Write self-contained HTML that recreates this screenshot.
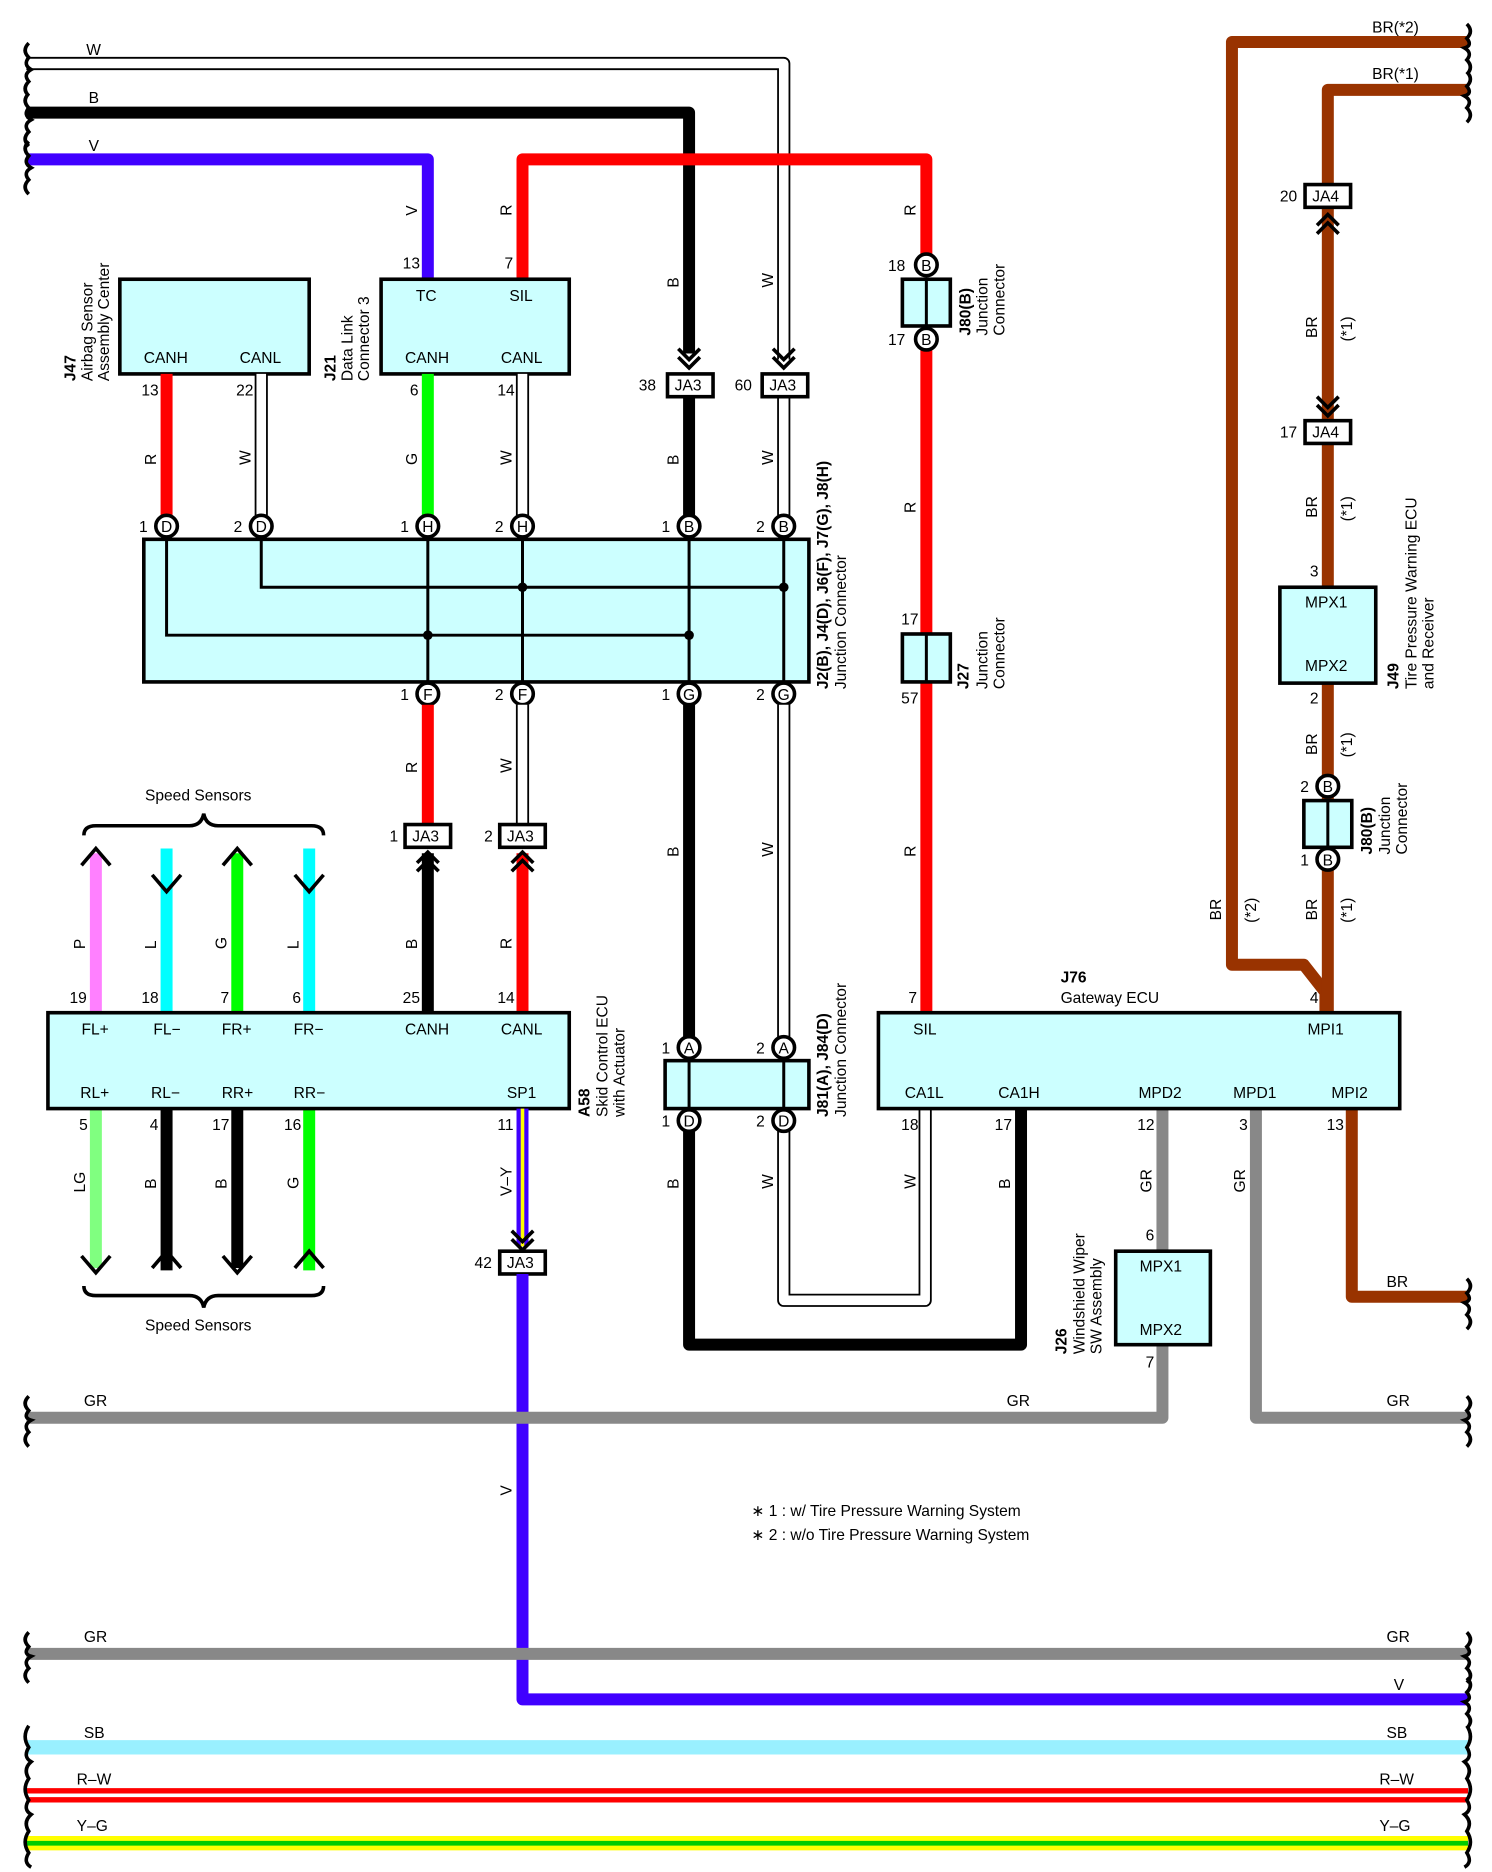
<!DOCTYPE html>
<html><head><meta charset="utf-8"><style>
html,body{margin:0;padding:0;background:#fff;}
svg{display:block;}
text{font-family:"Liberation Sans",sans-serif;font-size:13px;fill:#000;}
.b{font-weight:bold;}
.box{fill:#ccffff;stroke:#000;stroke-width:3;}
.pin{fill:#fff;stroke:#000;stroke-width:3;}
.w{fill:none;stroke-linejoin:round;}
.ch{fill:none;stroke:#000;stroke-width:3;}
.br{fill:none;stroke:#000;stroke-width:3;}
</style></head><body>
<svg width="1492" height="1872" viewBox="0 0 1245 1562" preserveAspectRatio="none" xmlns="http://www.w3.org/2000/svg">
<!-- top wires -->
<path class="w" d="M22,53 H654 V300" stroke="#000" stroke-width="11"/>
<path class="w" d="M22,53 H654 V300" stroke="#fff" stroke-width="8"/>
<path class="w" d="M22,94 H575 V295" stroke="#000" stroke-width="10"/>
<path class="w" d="M22,133 H357 V233" stroke="#4000ff" stroke-width="10"/>
<path class="w" d="M436,233 V133 H773 V212" stroke="#ff0000" stroke-width="10"/>
<path class="w" d="M1225,35 H1028 V805 H1088 L1106,828 V845" stroke="#993300" stroke-width="10"/>
<path class="w" d="M1225,75 H1108 V845" stroke="#993300" stroke-width="10"/>
<path class="w" d="M1128,925 V1082 H1225" stroke="#993300" stroke-width="10"/>
<!-- braces -->
<path class="br" d="M24,36 q-6,6 0,12 q-5,6 2,10 q-7,4 -2,10 q-6,6 0,12"/>
<path class="br" d="M24,78 q-6,6 0,12 q-5,6 2,10 q-7,4 -2,10 q-6,6 0,12"/>
<path class="br" d="M24,118 q-6,6 0,12 q-5,6 2,10 q-7,4 -2,10 q-6,6 0,12"/>
<path class="br" d="M1224,20 q6,6 0,12 q5,6 -2,8 q7,4 2,10 q6,6 0,12"/>
<path class="br" d="M1224,60 q6,6 0,12 q5,6 -2,8 q7,4 2,10 q6,6 0,12"/>
<path class="br" d="M1224,1067 q6,6 0,12 q5,6 -2,8 q7,4 2,10 q6,6 0,12"/>
<text x="72" y="46">W</text><text x="74" y="86">B</text><text x="74" y="126">V</text>
<text x="1145" y="27">BR(*2)</text><text x="1145" y="66">BR(*1)</text><text x="1157" y="1074">BR</text>
<!-- J47 J21 -->
<rect class="box" x="100" y="233" width="158" height="79"/>
<text x="120" y="303">CANH</text><text x="200" y="303">CANL</text>
<rect class="box" x="318" y="233" width="157" height="79"/>
<text x="347" y="251">TC</text><text x="425" y="251">SIL</text>
<text x="338" y="303">CANH</text><text x="418" y="303">CANL</text>
<text x="336" y="224">13</text><text x="421" y="224">7</text>
<text transform="translate(63,318) rotate(-90)" class="b">J47</text>
<text transform="translate(77,318) rotate(-90)">Airbag Sensor</text>
<text transform="translate(91,318) rotate(-90)">Assembly Center</text>
<text transform="translate(280,318) rotate(-90)" class="b">J21</text>
<text transform="translate(294,318) rotate(-90)">Data Link</text>
<text transform="translate(308,318) rotate(-90)">Connector 3</text>
<!-- wires J47/J21 to junction -->
<line x1="139" y1="312" x2="139" y2="430" stroke="#f00" stroke-width="10"/>
<line x1="218" y1="312" x2="218" y2="430" stroke="#000" stroke-width="11"/>
<line x1="218" y1="312" x2="218" y2="430" stroke="#fff" stroke-width="8"/>
<line x1="357" y1="312" x2="357" y2="430" stroke="#00ff00" stroke-width="10"/>
<line x1="436" y1="312" x2="436" y2="430" stroke="#000" stroke-width="11"/>
<line x1="436" y1="312" x2="436" y2="430" stroke="#fff" stroke-width="8"/>
<line x1="575" y1="331" x2="575" y2="430" stroke="#000" stroke-width="10"/>
<line x1="654" y1="331" x2="654" y2="430" stroke="#000" stroke-width="11"/>
<line x1="654" y1="331" x2="654" y2="430" stroke="#fff" stroke-width="8"/>
<text x="118" y="330">13</text><text x="197" y="330">22</text><text x="342" y="330">6</text><text x="415" y="330">14</text>
<!-- JA3 top -->
<path class="ch" d="M566,291 l9,9 l9,-9 M566,298 l9,9 l9,-9"/>
<path class="ch" d="M645,291 l9,9 l9,-9 M645,298 l9,9 l9,-9"/>
<rect x="557" y="312" width="38" height="19" fill="#fff" stroke="#000" stroke-width="3"/>
<rect x="636" y="312" width="38" height="19" fill="#fff" stroke="#000" stroke-width="3"/>
<text x="563" y="326">JA3</text><text x="642" y="326">JA3</text>
<text x="533" y="326">38</text><text x="613" y="326">60</text>
<!-- Junction connector big -->
<rect class="box" x="120" y="450" width="555" height="119"/>
<g stroke="#000" stroke-width="2.5" fill="none">
<path d="M139,450 V530 H575"/><path d="M218,450 V490 H654"/>
<path d="M357,450 V569 M436,450 V569 M575,450 V569 M654,450 V569"/>
</g>
<circle cx="436" cy="490" r="4"/><circle cx="654" cy="490" r="4"/><circle cx="357" cy="530" r="4"/><circle cx="575" cy="530" r="4"/>
<g>
<circle class="pin" cx="139" cy="439" r="9"/><circle class="pin" cx="218" cy="439" r="9"/><circle class="pin" cx="357" cy="439" r="9"/><circle class="pin" cx="436" cy="439" r="9"/><circle class="pin" cx="575" cy="439" r="9"/><circle class="pin" cx="654" cy="439" r="9"/>
<circle class="pin" cx="357" cy="579" r="9"/><circle class="pin" cx="436" cy="579" r="9"/><circle class="pin" cx="575" cy="579" r="9"/><circle class="pin" cx="654" cy="579" r="9"/>
</g>
<g font-size="12" text-anchor="middle">
<text x="139" y="444" text-anchor="middle">D</text><text x="218" y="444" text-anchor="middle">D</text><text x="357" y="444" text-anchor="middle">H</text><text x="436" y="444" text-anchor="middle">H</text><text x="575" y="444" text-anchor="middle">B</text><text x="654" y="444" text-anchor="middle">B</text>
<text x="357" y="584" text-anchor="middle">F</text><text x="436" y="584" text-anchor="middle">F</text><text x="575" y="584" text-anchor="middle">G</text><text x="654" y="584" text-anchor="middle">G</text>
</g>
<text x="116" y="444">1</text><text x="195" y="444">2</text><text x="334" y="444">1</text><text x="413" y="444">2</text><text x="552" y="444">1</text><text x="631" y="444">2</text>
<text x="334" y="584">1</text><text x="413" y="584">2</text><text x="552" y="584">1</text><text x="631" y="584">2</text>
<text transform="translate(691,575) rotate(-90)" class="b">J2(B), J4(D), J6(F), J7(G), J8(H)</text>
<text transform="translate(706,575) rotate(-90)">Junction Connector</text>
<!-- below F -->
<line x1="357" y1="588" x2="357" y2="688" stroke="#f00" stroke-width="10"/>
<line x1="436" y1="588" x2="436" y2="688" stroke="#000" stroke-width="11"/>
<line x1="436" y1="588" x2="436" y2="688" stroke="#fff" stroke-width="8"/>
<rect x="338" y="688" width="38" height="19" fill="#fff" stroke="#000" stroke-width="3"/>
<rect x="417" y="688" width="38" height="19" fill="#fff" stroke="#000" stroke-width="3"/>
<text x="344" y="702">JA3</text><text x="423" y="702">JA3</text>
<text x="325" y="702">1</text><text x="404" y="702">2</text>
<line x1="357" y1="712" x2="357" y2="845" stroke="#000" stroke-width="10"/>
<line x1="436" y1="712" x2="436" y2="845" stroke="#f00" stroke-width="10"/>
<path class="ch" d="M348,720 l9,-9 l9,9 M348,727 l9,-9 l9,9"/>
<path class="ch" d="M427,720 l9,-9 l9,9 M427,727 l9,-9 l9,9"/>
<text x="336" y="837">25</text><text x="415" y="837">14</text>
<!-- speed sensor wires -->
<line x1="80" y1="712" x2="80" y2="845" stroke="#ff80ff" stroke-width="10"/>
<line x1="139" y1="708" x2="139" y2="845" stroke="#00ffff" stroke-width="10"/>
<line x1="198" y1="712" x2="198" y2="845" stroke="#00ff00" stroke-width="10"/>
<line x1="258" y1="708" x2="258" y2="845" stroke="#00ffff" stroke-width="10"/>
<path class="ch" d="M68,722 l12,-14 l12,14 M186,722 l12,-14 l12,14 M127,730 l12,14 l12,-14 M246,730 l12,14 l12,-14"/>
<line x1="80" y1="925" x2="80" y2="1058" stroke="#80ff80" stroke-width="10"/>
<line x1="139" y1="925" x2="139" y2="1060" stroke="#000" stroke-width="10"/>
<line x1="198" y1="925" x2="198" y2="1058" stroke="#000" stroke-width="10"/>
<line x1="258" y1="925" x2="258" y2="1060" stroke="#00ff00" stroke-width="10"/>
<path class="ch" d="M68,1048 l12,14 l12,-14 M186,1048 l12,14 l12,-14 M127,1058 l12,-14 l12,14 M246,1058 l12,-14 l12,14"/>
<path class="br" d="M70,697 q0,-8 10,-8 h78 q10,0 12,-10 q2,10 12,10 h78 q10,0 10,8"/>
<path class="br" d="M70,1073 q0,8 10,8 h78 q10,0 12,10 q2,-10 12,-10 h78 q10,0 10,-8"/>
<text x="121" y="668">Speed Sensors</text><text x="121" y="1110">Speed Sensors</text>
<text x="58" y="837">19</text><text x="118" y="837">18</text><text x="184" y="837">7</text><text x="244" y="837">6</text>
<text x="66" y="943">5</text><text x="125" y="943">4</text><text x="177" y="943">17</text><text x="237" y="943">16</text>
<!-- A58 -->
<rect class="box" x="40" y="845" width="435" height="80"/>
<text x="68" y="863">FL+</text><text x="128" y="863">FL−</text><text x="185" y="863">FR+</text><text x="245" y="863">FR−</text><text x="338" y="863">CANH</text><text x="418" y="863">CANL</text>
<text x="67" y="916">RL+</text><text x="126" y="916">RL−</text><text x="185" y="916">RR+</text><text x="245" y="916">RR−</text><text x="423" y="916">SP1</text>
<text transform="translate(492,932) rotate(-90)" class="b">A58</text>
<text transform="translate(507,932) rotate(-90)">Skid Control ECU</text>
<text transform="translate(521,932) rotate(-90)">with Actuator</text>
<!-- SP1 V-Y -->
<line x1="436" y1="925" x2="436" y2="1040" stroke="#4000ff" stroke-width="10"/>
<line x1="436" y1="925" x2="436" y2="1040" stroke="#ffff00" stroke-width="3"/>
<path class="ch" d="M427,1027 l9,9 l9,-9 M427,1034 l9,9 l9,-9"/>
<rect x="417" y="1044" width="38" height="19" fill="#fff" stroke="#000" stroke-width="3"/>
<text x="423" y="1058">JA3</text><text x="396" y="1058">42</text><text x="415" y="943">11</text>
<path class="w" d="M436,1063 V1418 H1225" stroke="#4000ff" stroke-width="10"/>
<!-- J81 J84 -->
<line x1="575" y1="588" x2="575" y2="866" stroke="#000" stroke-width="10"/>
<line x1="654" y1="588" x2="654" y2="866" stroke="#000" stroke-width="11"/>
<line x1="654" y1="588" x2="654" y2="866" stroke="#fff" stroke-width="8"/>
<path class="w" d="M575,935 V1122 H852 V925" stroke="#000" stroke-width="10"/>
<path class="w" d="M654,935 V1085 H772 V925" stroke="#000" stroke-width="11"/>
<path class="w" d="M654,935 V1085 H772 V925" stroke="#fff" stroke-width="8"/>
<rect class="box" x="555" y="885" width="120" height="40"/>
<line x1="575" y1="885" x2="575" y2="925" stroke="#000" stroke-width="2.5"/><line x1="654" y1="885" x2="654" y2="925" stroke="#000" stroke-width="2.5"/>
<circle class="pin" cx="575" cy="874" r="9"/><circle class="pin" cx="654" cy="874" r="9"/><circle class="pin" cx="575" cy="935" r="9"/><circle class="pin" cx="654" cy="935" r="9"/>
<text x="575" y="879" text-anchor="middle" font-size="12">A</text><text x="654" y="879" text-anchor="middle" font-size="12">A</text><text x="575" y="940" text-anchor="middle" font-size="12">D</text><text x="654" y="940" text-anchor="middle" font-size="12">D</text>
<text x="552" y="879">1</text><text x="631" y="879">2</text><text x="552" y="940">1</text><text x="631" y="940">2</text>
<text transform="translate(691,932) rotate(-90)" class="b">J81(A), J84(D)</text>
<text transform="translate(706,932) rotate(-90)">Junction Connector</text>
<!-- right red J80 J27 -->
<line x1="773" y1="290" x2="773" y2="845" stroke="#f00" stroke-width="10"/>
<rect class="box" x="753" y="233" width="40" height="39"/><line x1="773" y1="233" x2="773" y2="272" stroke="#000" stroke-width="2.5"/>
<circle class="pin" cx="773" cy="221" r="9"/><circle class="pin" cx="773" cy="283" r="9"/>
<text x="773" y="226" text-anchor="middle" font-size="12">B</text><text x="773" y="288" text-anchor="middle" font-size="12">B</text>
<text x="741" y="226">18</text><text x="741" y="288">17</text>
<text transform="translate(810,280) rotate(-90)" class="b">J80(B)</text>
<text transform="translate(824,280) rotate(-90)">Junction</text>
<text transform="translate(838,280) rotate(-90)">Connector</text>
<rect class="box" x="753" y="529" width="40" height="40"/><line x1="773" y1="529" x2="773" y2="569" stroke="#000" stroke-width="2.5"/>
<text x="752" y="521">17</text><text x="752" y="587">57</text>
<text transform="translate(808,575) rotate(-90)" class="b">J27</text>
<text transform="translate(824,575) rotate(-90)">Junction</text>
<text transform="translate(838,575) rotate(-90)">Connector</text>
<!-- gray wires -->
<path class="w" d="M22,1183 H970 V925" stroke="#888" stroke-width="10"/>
<path class="w" d="M1048,925 V1183 H1225" stroke="#888" stroke-width="10"/>
<rect class="box" x="931" y="1044" width="79" height="78"/>
<text x="951" y="1061">MPX1</text><text x="951" y="1114">MPX2</text>
<text x="956" y="1035">6</text><text x="956" y="1141">7</text>
<text transform="translate(890,1130) rotate(-90)" class="b">J26</text>
<text transform="translate(905,1130) rotate(-90)">Windshield Wiper</text>
<text transform="translate(919,1130) rotate(-90)">SW Assembly</text>
<!-- J76 -->
<rect class="box" x="733" y="845" width="435" height="80"/>
<text x="762" y="863">SIL</text><text x="1091" y="863">MPI1</text>
<text x="755" y="916">CA1L</text><text x="833" y="916">CA1H</text><text x="950" y="916">MPD2</text><text x="1029" y="916">MPD1</text><text x="1111" y="916">MPI2</text>
<text x="885" y="820" class="b">J76</text><text x="885" y="837">Gateway ECU</text>
<text x="758" y="837">7</text><text x="1093" y="837">4</text>
<text x="752" y="943">18</text><text x="830" y="943">17</text><text x="949" y="943">12</text><text x="1034" y="943">3</text><text x="1107" y="943">13</text>
<!-- J49 / JA4 -->
<rect x="1089" y="154" width="38" height="19" fill="#fff" stroke="#000" stroke-width="3"/>
<text x="1095" y="168">JA4</text><text x="1068" y="168">20</text>
<path class="ch" d="M1099,188 l9,-9 l9,9 M1099,195 l9,-9 l9,9"/>
<path class="ch" d="M1099,331 l9,9 l9,-9 M1099,338 l9,9 l9,-9"/>
<rect x="1089" y="351" width="38" height="19" fill="#fff" stroke="#000" stroke-width="3"/>
<text x="1095" y="365">JA4</text><text x="1068" y="365">17</text>
<rect class="box" x="1068" y="490" width="80" height="80"/>
<text x="1089" y="507">MPX1</text><text x="1089" y="560">MPX2</text>
<text x="1093" y="481">3</text><text x="1093" y="587">2</text>
<text transform="translate(1167,575) rotate(-90)" class="b">J49</text>
<text transform="translate(1182,575) rotate(-90)">Tire Pressure Warning ECU</text>
<text transform="translate(1196,575) rotate(-90)">and Receiver</text>
<rect class="box" x="1088" y="668" width="40" height="39"/><line x1="1108" y1="668" x2="1108" y2="707" stroke="#000" stroke-width="2.5"/>
<circle class="pin" cx="1108" cy="656" r="9"/><circle class="pin" cx="1108" cy="717" r="9"/>
<text x="1108" y="661" text-anchor="middle" font-size="12">B</text><text x="1108" y="722" text-anchor="middle" font-size="12">B</text>
<text x="1085" y="661">2</text><text x="1085" y="722">1</text>
<text transform="translate(1145,713) rotate(-90)" class="b">J80(B)</text>
<text transform="translate(1160,713) rotate(-90)">Junction</text>
<text transform="translate(1174,713) rotate(-90)">Connector</text>
<!-- wire labels rotated -->
<g font-size="12">
<text transform="translate(348,180) rotate(-90)">V</text><text transform="translate(427,180) rotate(-90)">R</text>
<text transform="translate(566,240) rotate(-90)">B</text><text transform="translate(645,240) rotate(-90)">W</text>
<text transform="translate(764,180) rotate(-90)">R</text>
<text transform="translate(130,388) rotate(-90)">R</text><text transform="translate(209,388) rotate(-90)">W</text>
<text transform="translate(348,388) rotate(-90)">G</text><text transform="translate(427,388) rotate(-90)">W</text>
<text transform="translate(566,388) rotate(-90)">B</text><text transform="translate(645,388) rotate(-90)">W</text>
<text transform="translate(764,428) rotate(-90)">R</text><text transform="translate(764,715) rotate(-90)">R</text>
<text transform="translate(348,645) rotate(-90)">R</text><text transform="translate(427,645) rotate(-90)">W</text>
<text transform="translate(566,715) rotate(-90)">B</text><text transform="translate(645,715) rotate(-90)">W</text>
<text transform="translate(71,792) rotate(-90)">P</text><text transform="translate(130,792) rotate(-90)">L</text>
<text transform="translate(189,792) rotate(-90)">G</text><text transform="translate(249,792) rotate(-90)">L</text>
<text transform="translate(348,792) rotate(-90)">B</text><text transform="translate(427,792) rotate(-90)">R</text>
<text transform="translate(71,995) rotate(-90)">LG</text><text transform="translate(130,992) rotate(-90)">B</text>
<text transform="translate(189,992) rotate(-90)">B</text><text transform="translate(249,992) rotate(-90)">G</text>
<text transform="translate(427,998) rotate(-90)">V–Y</text>
<text transform="translate(566,992) rotate(-90)">B</text><text transform="translate(645,992) rotate(-90)">W</text>
<text transform="translate(764,992) rotate(-90)">W</text><text transform="translate(843,992) rotate(-90)">B</text>
<text transform="translate(961,995) rotate(-90)">GR</text><text transform="translate(1039,995) rotate(-90)">GR</text>
<text transform="translate(427,1248) rotate(-90)">V</text>
<text transform="translate(1099,282) rotate(-90)">BR</text><text transform="translate(1128,285) rotate(-90)">(*1)</text>
<text transform="translate(1099,432) rotate(-90)">BR</text><text transform="translate(1128,435) rotate(-90)">(*1)</text>
<text transform="translate(1099,630) rotate(-90)">BR</text><text transform="translate(1128,632) rotate(-90)">(*1)</text>
<text transform="translate(1099,768) rotate(-90)">BR</text><text transform="translate(1128,770) rotate(-90)">(*1)</text>
<text transform="translate(1019,768) rotate(-90)">BR</text><text transform="translate(1048,770) rotate(-90)">(*2)</text>
</g>
<text x="70" y="1173">GR</text><text x="840" y="1173">GR</text><text x="1157" y="1173">GR</text>
<!-- notes -->
<text x="627" y="1265">∗ 1 : w/ Tire Pressure Warning System</text>
<text x="627" y="1285">∗ 2 : w/o Tire Pressure Warning System</text>
<!-- bottom bus -->
<line x1="22" y1="1380" x2="1225" y2="1380" stroke="#888" stroke-width="10"/>
<line x1="22" y1="1458" x2="1225" y2="1458" stroke="#99f0ff" stroke-width="12"/>
<line x1="22" y1="1498" x2="1225" y2="1498" stroke="#f00" stroke-width="12"/>
<line x1="22" y1="1498" x2="1225" y2="1498" stroke="#fff" stroke-width="3"/>
<line x1="22" y1="1538" x2="1225" y2="1538" stroke="#ffff00" stroke-width="12"/>
<line x1="22" y1="1538" x2="1225" y2="1538" stroke="#00cc00" stroke-width="4"/>
<text x="70" y="1370">GR</text><text x="1157" y="1370">GR</text><text x="1163" y="1410">V</text>
<text x="70" y="1450">SB</text><text x="1157" y="1450">SB</text>
<text x="64" y="1489">R–W</text><text x="1151" y="1489">R–W</text>
<text x="64" y="1528">Y–G</text><text x="1151" y="1528">Y–G</text>
<path class="br" d="M24,1165 q-6,6 0,12 q-5,6 2,8 q-7,4 -2,10 q-6,6 0,12"/>
<path class="br" d="M1224,1165 q6,6 0,12 q5,6 -2,8 q7,4 2,10 q6,6 0,12"/>
<path class="br" d="M24,1362 q-6,6 0,12 q-5,6 2,8 q-7,4 -2,10 q-6,6 0,12"/>
<path class="br" d="M1224,1362 q6,6 0,12 q5,6 -2,8 q7,4 2,10 q6,6 0,12"/>
<path class="br" d="M1224,1400 q6,6 0,12 q5,6 -2,8 q7,4 2,10 q6,6 0,12"/>
<path class="br" d="M24,1440 q-6,9 0,18 q-5,8 2,12 q-7,6 -2,14 q-6,9 0,18 q-5,8 2,12 q-7,6 -2,14 q-6,9 0,18 q-5,8 2,12"/>
<path class="br" d="M1224,1440 q6,9 0,18 q5,8 -2,12 q7,6 2,14 q6,9 0,18 q5,8 -2,12 q7,6 2,14 q6,9 0,18 q5,8 -2,12"/>
</svg>
</body></html>
